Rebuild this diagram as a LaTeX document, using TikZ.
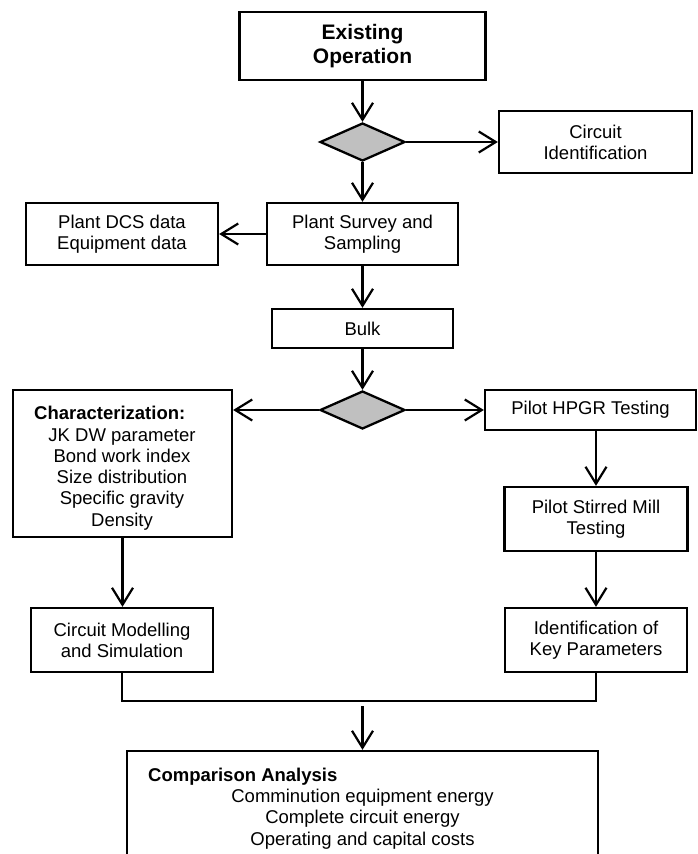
\documentclass[tikz,border=0pt]{standalone}
\usepackage{fontspec}
\setmainfont{Liberation Sans}
\usetikzlibrary{shapes.geometric,arrows.meta}
\definecolor{decgray}{HTML}{C0C0C0}
\tikzset{
  box/.style={draw, line width=2.3pt, align=center, inner sep=2pt, font=\fontsize{18.5}{21}\selectfont},
  decision/.style={diamond, draw, line width=2.3pt, fill=decgray, inner sep=0pt, minimum width=85pt, minimum height=38pt},
  flow/.style={line width=2.2pt, -{Straight Barb[length=17pt,width=21pt]}},
  txt/.style={inner sep=0pt, anchor=base, font=\fontsize{18.5}{21}\selectfont}
}
\begin{document}
\begin{tikzpicture}[x=1pt,y=-1pt]
    \clip (0,0) rectangle (697,854);
    %the boxes
    \node[box, minimum width=246pt, minimum height=68pt, font=\bfseries\fontsize{21}{24}\selectfont] (exist) at (362.5,46) {Existing\\Operation};
    \node[decision] (dec1) at (362.5,142) {};
    \node[box, minimum width=193pt, minimum height=62pt] (circ) at (595.5,142) {Circuit\\Identification};
    \node[box, minimum width=191pt, minimum height=62pt] (survey) at (362.5,234) {Plant Survey and\\Sampling};
    \node[box, minimum width=192pt, minimum height=62pt] (dcs) at (122,234) {Plant DCS data\\Equipment data};
    \node[box, minimum width=181pt, minimum height=39pt] (bulk) at (362.5,328.5) {Bulk};
    \node[decision] (dec2) at (362.5,410) {};
    \node[box, minimum width=219pt, minimum height=147pt] (char) at (122.5,463.5) {};
    \node[box, minimum width=211pt, minimum height=40pt] (hpgr) at (590.5,410) {Pilot HPGR Testing};
    \node[box, minimum width=183pt, minimum height=64pt] (stirred) at (596,519) {Pilot Stirred Mill\\Testing};
    \node[box, minimum width=182pt, minimum height=64pt] (model) at (122,640) {Circuit Modelling\\and Simulation};
    \node[box, minimum width=182pt, minimum height=64pt] (keypar) at (596,640) {Identification of\\Key Parameters};
    \node[box, minimum width=471pt, minimum height=200pt] (comp) at (362.5,851) {};
    %the entries of the two large boxes
    \node[txt, anchor=base west, font=\bfseries\fontsize{18.5}{21}\selectfont] (chartitle) at (34,419) {Characterization:};
    \node[txt] (char1) at (122,441) {JK DW parameter};
    \node[txt] (char2) at (122,462.3) {Bond work index};
    \node[txt] (char3) at (122,483.6) {Size distribution};
    \node[txt] (char4) at (122,504.9) {Specific gravity};
    \node[txt] (char5) at (122,526.2) {Density};
    \node[txt, anchor=base west, font=\bfseries\fontsize{18.5}{21}\selectfont] (comptitle) at (148,781) {Comparison Analysis};
    \node[txt] (comp1) at (362.5,802) {Comminution equipment energy};
    \node[txt] (comp2) at (362.5,823.5) {Complete circuit energy};
    \node[txt] (comp3) at (362.5,845) {Operating and capital costs};
    %the connectors
    \draw[flow] (exist) -- (dec1);
    \draw[flow] (dec1) -- (circ);
    \draw[flow] (dec1) -- (survey);
    \draw[flow] (survey) -- (dcs);
    \draw[flow] (survey) -- (bulk);
    \draw[flow] (bulk) -- (dec2);
    \draw[flow] (dec2.west) -- (dec2.west -| char.east);
    \draw[flow] (dec2.east) -- (dec2.east -| hpgr.west);
    \draw[flow] (stirred.north |- hpgr.south) -- (stirred.north);
    \draw[flow] (char.south) -- (char.south |- model.north);
    \draw[flow] (stirred) -- (keypar);
    \coordinate (join) at (362.5,701);
    \coordinate (gap) at (362.5,706);
    \draw[line width=1.6pt] (model.south) |- (join) -| (keypar.south);
    \draw[flow] (gap) -- (comp);
\end{tikzpicture}
\end{document}
